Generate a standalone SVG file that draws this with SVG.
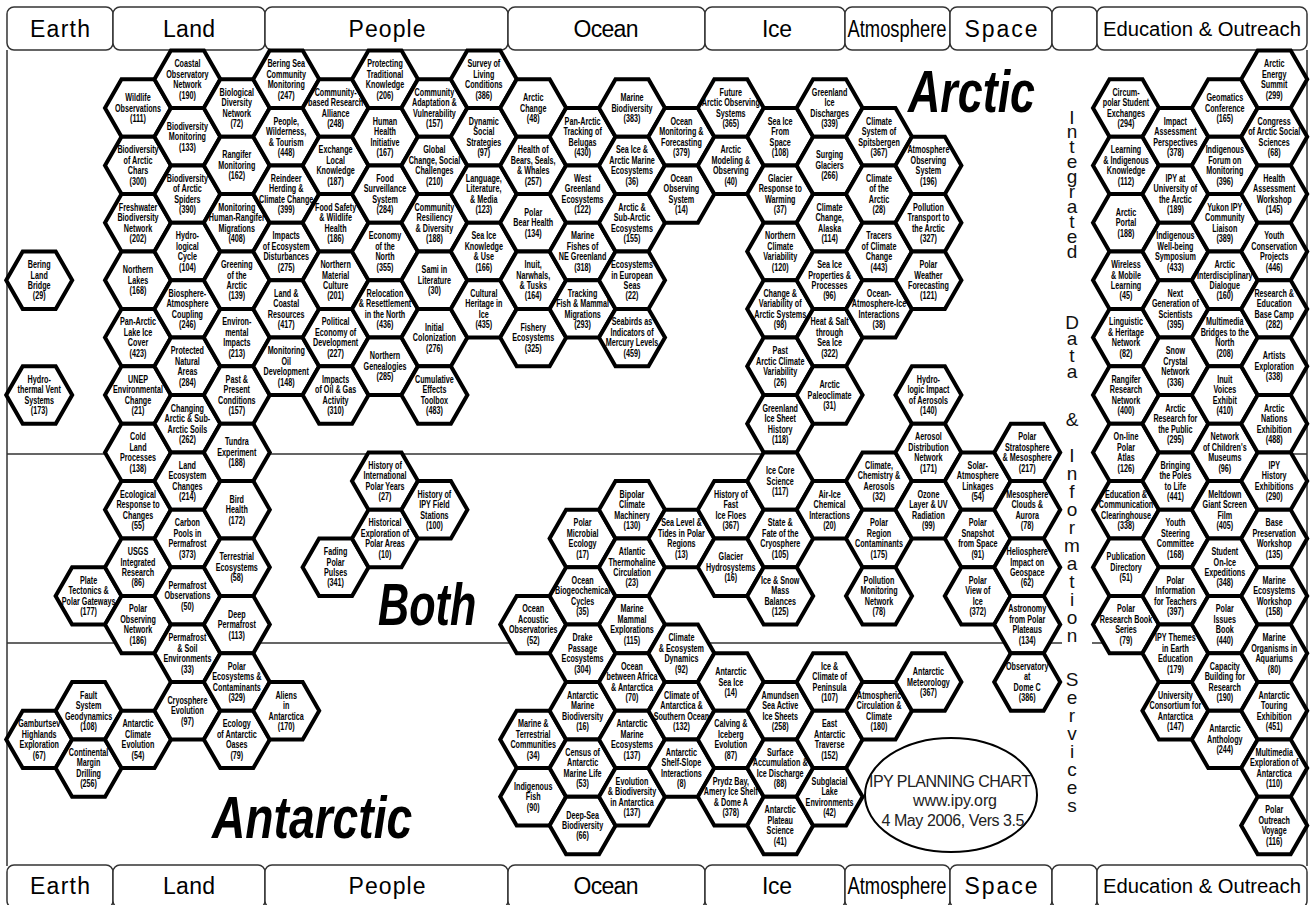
<svg xmlns="http://www.w3.org/2000/svg" width="1313" height="905" viewBox="0 0 1313 905">
<defs>
<path id="h" d="M-33,0L-16.5,-28.7L16.5,-28.7L33,0L16.5,28.7L-16.5,28.7Z" fill="#fff" stroke="#000" stroke-width="4" stroke-linejoin="miter"/>
<style>
.t{font-family:"Liberation Sans",Arial,sans-serif;font-weight:bold;font-size:10px;text-anchor:middle;transform:scale(.72,1);fill:#000}
.hb{fill:#fff;stroke:#333;stroke-width:1.5}
.ht{font-family:"Liberation Sans",Arial,sans-serif;font-size:23px;text-anchor:middle;fill:#000}
.hs{font-family:"Liberation Sans",Arial,sans-serif;font-size:20px;text-anchor:middle;fill:#000}
.big{font-family:"Liberation Sans",Arial,sans-serif;font-weight:bold;font-style:italic;font-size:60px;fill:#000}
.vt{font-family:"Liberation Sans",Arial,sans-serif;font-size:19px;fill:#111;writing-mode:vertical-rl;text-orientation:upright}
.ln{stroke:#333;stroke-width:1.5;fill:none}
.el{font-family:"Liberation Sans",Arial,sans-serif;font-size:16px;text-anchor:middle;fill:#222}
</style>
</defs>
<rect width="1313" height="905" fill="#fff"/>
<g id="frame">
<path class="ln" d="M7,50V866M1307,50V866M7,454H765M1285,454H1307M7,643H1062M1092,643H1110"/>
</g>
<g id="header">
<rect class="hb" x="7" y="7" width="106" height="43" rx="7"/>
<rect class="hb" x="113" y="7" width="152" height="43" rx="7"/>
<rect class="hb" x="265" y="7" width="243" height="43" rx="7"/>
<rect class="hb" x="508" y="7" width="197" height="43" rx="7"/>
<rect class="hb" x="705" y="7" width="140" height="43" rx="7"/>
<rect class="hb" x="845" y="7" width="105" height="43" rx="7"/>
<rect class="hb" x="950" y="7" width="102" height="43" rx="7"/>
<rect class="hb" x="1052" y="7" width="45" height="43" rx="7"/>
<rect class="hb" x="1097" y="7" width="210" height="43" rx="7"/>
<text class="ht" x="60" y="37" textLength="60">Earth</text>
<text class="ht" x="189" y="37" textLength="52">Land</text>
<text class="ht" x="387" y="37" textLength="77">People</text>
<text class="ht" x="606" y="37" textLength="65">Ocean</text>
<text class="ht" x="777" y="37" textLength="30">Ice</text>
<text class="ht" x="897" y="37" textLength="99" lengthAdjust="spacingAndGlyphs">Atmosphere</text>
<text class="ht" x="1001" y="37" textLength="73">Space</text>
<text class="hs" x="1202" y="36" textLength="198" lengthAdjust="spacingAndGlyphs">Education &amp; Outreach</text>
</g>
<g id="footer">
<rect class="hb" x="7" y="865" width="106" height="43" rx="7"/>
<rect class="hb" x="113" y="865" width="152" height="43" rx="7"/>
<rect class="hb" x="265" y="865" width="243" height="43" rx="7"/>
<rect class="hb" x="508" y="865" width="197" height="43" rx="7"/>
<rect class="hb" x="705" y="865" width="140" height="43" rx="7"/>
<rect class="hb" x="845" y="865" width="105" height="43" rx="7"/>
<rect class="hb" x="950" y="865" width="102" height="43" rx="7"/>
<rect class="hb" x="1052" y="865" width="45" height="43" rx="7"/>
<rect class="hb" x="1097" y="865" width="210" height="43" rx="7"/>
<text class="ht" x="60" y="894" textLength="60">Earth</text>
<text class="ht" x="189" y="894" textLength="52">Land</text>
<text class="ht" x="387" y="894" textLength="77">People</text>
<text class="ht" x="606" y="894" textLength="65">Ocean</text>
<text class="ht" x="777" y="894" textLength="30">Ice</text>
<text class="ht" x="897" y="894" textLength="99" lengthAdjust="spacingAndGlyphs">Atmosphere</text>
<text class="ht" x="1001" y="894" textLength="73">Space</text>
<text class="hs" x="1202" y="893" textLength="198" lengthAdjust="spacingAndGlyphs">Education &amp; Outreach</text>
</g>
<g id="labels">
<text class="big" transform="translate(908,112) scale(0.747,1)">Arctic</text>
<text class="big" transform="translate(378,625) scale(0.72,1)">Both</text>
<text class="big" transform="translate(212,838) scale(0.77,1)">Antarctic</text>
<text class="vt" x="1072" y="106.5" style="letter-spacing:-6.1px">Integrated</text>
<text class="vt" x="1072" y="311.5" style="letter-spacing:-4.5px">Data</text>
<text class="vt" x="1072" y="408.5">&amp;</text>
<text class="vt" x="1072" y="445" style="letter-spacing:-3px">Information</text>
<text class="vt" x="1072" y="668.5" style="letter-spacing:-2.9px">Services</text>
</g>
<g id="chart-note">
<ellipse cx="951" cy="795" rx="86" ry="57" fill="#fff" stroke="#000" stroke-width="2"/>
<text class="el" x="950" y="787" textLength="162">IPY PLANNING CHART</text>
<text class="el" x="955" y="806" textLength="84">www.ipy.org</text>
<text class="el" x="953" y="826" textLength="143">4 May 2006, Vers 3.5</text>
</g>
<g id="connectors"></g>
<g id="nodes">
<g id="n29" transform="translate(39.2,280.2)"><use href="#h"/><text class="t"><tspan x="0" y="-12.2">Bering</tspan><tspan x="0" y="-1.7">Land</tspan><tspan x="0" y="8.8">Bridge</tspan><tspan x="0" y="19.3">(29)</tspan></text></g>
<g id="n173" transform="translate(39.2,395)"><use href="#h"/><text class="t"><tspan x="0" y="-12.2">Hydro-</tspan><tspan x="0" y="-1.7">thermal Vent</tspan><tspan x="0" y="8.8">Systems</tspan><tspan x="0" y="19.3">(173)</tspan></text></g>
<g id="n67" transform="translate(39.2,739.4)"><use href="#h"/><text class="t"><tspan x="0" y="-12.2">Gamburtsev</tspan><tspan x="0" y="-1.7">Highlands</tspan><tspan x="0" y="8.8">Exploration</tspan><tspan x="0" y="19.3">(67)</tspan></text></g>
<g id="n177" transform="translate(88.6,595.9)"><use href="#h"/><text class="t"><tspan x="0" y="-12.2">Plate</tspan><tspan x="0" y="-1.7">Tectonics &amp;</tspan><tspan x="0" y="8.8">Polar Gateways</tspan><tspan x="0" y="19.3">(177)</tspan></text></g>
<g id="n108" transform="translate(88.6,710.7)"><use href="#h"/><text class="t"><tspan x="0" y="-12.2">Fault</tspan><tspan x="0" y="-1.7">System</tspan><tspan x="0" y="8.8">Geodynamics</tspan><tspan x="0" y="19.3">(108)</tspan></text></g>
<g id="n256" transform="translate(88.6,768.1)"><use href="#h"/><text class="t"><tspan x="0" y="-12.2">Continental</tspan><tspan x="0" y="-1.7">Margin</tspan><tspan x="0" y="8.8">Drilling</tspan><tspan x="0" y="19.3">(256)</tspan></text></g>

<g id="n111" transform="translate(138,108)"><use href="#h"/><text class="t"><tspan x="0" y="-7">Wildlife</tspan><tspan x="0" y="3.5">Observations</tspan><tspan x="0" y="14">(111)</tspan></text></g>
<g id="n300" transform="translate(138,165.4)"><use href="#h"/><text class="t"><tspan x="0" y="-12.2">Biodiversity</tspan><tspan x="0" y="-1.7">of Arctic</tspan><tspan x="0" y="8.8">Chars</tspan><tspan x="0" y="19.3">(300)</tspan></text></g>
<g id="n202" transform="translate(138,222.8)"><use href="#h"/><text class="t"><tspan x="0" y="-12.2">Freshwater</tspan><tspan x="0" y="-1.7">Biodiversity</tspan><tspan x="0" y="8.8">Network</tspan><tspan x="0" y="19.3">(202)</tspan></text></g>
<g id="n168a" transform="translate(138,280.2)"><use href="#h"/><text class="t"><tspan x="0" y="-7">Northern</tspan><tspan x="0" y="3.5">Lakes</tspan><tspan x="0" y="14">(168)</tspan></text></g>
<g id="n423" transform="translate(138,337.6)"><use href="#h"/><text class="t"><tspan x="0" y="-12.2">Pan-Arctic</tspan><tspan x="0" y="-1.7">Lake Ice</tspan><tspan x="0" y="8.8">Cover</tspan><tspan x="0" y="19.3">(423)</tspan></text></g>
<g id="n21" transform="translate(138,395)"><use href="#h"/><text class="t"><tspan x="0" y="-12.2">UNEP</tspan><tspan x="0" y="-1.7">Environmental</tspan><tspan x="0" y="8.8">Change</tspan><tspan x="0" y="19.3">(21)</tspan></text></g>
<g id="n138" transform="translate(138,452.4)"><use href="#h"/><text class="t"><tspan x="0" y="-12.2">Cold</tspan><tspan x="0" y="-1.7">Land</tspan><tspan x="0" y="8.8">Processes</tspan><tspan x="0" y="19.3">(138)</tspan></text></g>
<g id="n55" transform="translate(138,509.8)"><use href="#h"/><text class="t"><tspan x="0" y="-12.2">Ecological</tspan><tspan x="0" y="-1.7">Response to</tspan><tspan x="0" y="8.8">Changes</tspan><tspan x="0" y="19.3">(55)</tspan></text></g>
<g id="n86" transform="translate(138,567.2)"><use href="#h"/><text class="t"><tspan x="0" y="-12.2">USGS</tspan><tspan x="0" y="-1.7">Integrated</tspan><tspan x="0" y="8.8">Research</tspan><tspan x="0" y="19.3">(86)</tspan></text></g>
<g id="n186a" transform="translate(138,624.6)"><use href="#h"/><text class="t"><tspan x="0" y="-12.2">Polar</tspan><tspan x="0" y="-1.7">Observing</tspan><tspan x="0" y="8.8">Network</tspan><tspan x="0" y="19.3">(186)</tspan></text></g>
<g id="n54a" transform="translate(138,739.4)"><use href="#h"/><text class="t"><tspan x="0" y="-12.2">Antarctic</tspan><tspan x="0" y="-1.7">Climate</tspan><tspan x="0" y="8.8">Evolution</tspan><tspan x="0" y="19.3">(54)</tspan></text></g>

<g id="n190a" transform="translate(187.4,79.3)"><use href="#h"/><text class="t"><tspan x="0" y="-12.2">Coastal</tspan><tspan x="0" y="-1.7">Observatory</tspan><tspan x="0" y="8.8">Network</tspan><tspan x="0" y="19.3">(190)</tspan></text></g>
<g id="n133" transform="translate(187.4,136.7)"><use href="#h"/><text class="t"><tspan x="0" y="-7">Biodiversity</tspan><tspan x="0" y="3.5">Monitoring</tspan><tspan x="0" y="14">(133)</tspan></text></g>
<g id="n390" transform="translate(187.4,194.1)"><use href="#h"/><text class="t"><tspan x="0" y="-12.2">Biodiversity</tspan><tspan x="0" y="-1.7">of Arctic</tspan><tspan x="0" y="8.8">Spiders</tspan><tspan x="0" y="19.3">(390)</tspan></text></g>
<g id="n104" transform="translate(187.4,251.5)"><use href="#h"/><text class="t"><tspan x="0" y="-12.2">Hydro-</tspan><tspan x="0" y="-1.7">logical</tspan><tspan x="0" y="8.8">Cycle</tspan><tspan x="0" y="19.3">(104)</tspan></text></g>
<g id="n246" transform="translate(187.4,308.9)"><use href="#h"/><text class="t"><tspan x="0" y="-12.2">Biosphere-</tspan><tspan x="0" y="-1.7">Atmosphere</tspan><tspan x="0" y="8.8">Coupling</tspan><tspan x="0" y="19.3">(246)</tspan></text></g>
<g id="n284a" transform="translate(187.4,366.3)"><use href="#h"/><text class="t"><tspan x="0" y="-12.2">Protected</tspan><tspan x="0" y="-1.7">Natural</tspan><tspan x="0" y="8.8">Areas</tspan><tspan x="0" y="19.3">(284)</tspan></text></g>
<g id="n262" transform="translate(187.4,423.7)"><use href="#h"/><text class="t"><tspan x="0" y="-12.2">Changing</tspan><tspan x="0" y="-1.7">Arctic &amp; Sub-</tspan><tspan x="0" y="8.8">Arctic Soils</tspan><tspan x="0" y="19.3">(262)</tspan></text></g>
<g id="n214" transform="translate(187.4,481.1)"><use href="#h"/><text class="t"><tspan x="0" y="-12.2">Land</tspan><tspan x="0" y="-1.7">Ecosystem</tspan><tspan x="0" y="8.8">Changes</tspan><tspan x="0" y="19.3">(214)</tspan></text></g>
<g id="n373" transform="translate(187.4,538.5)"><use href="#h"/><text class="t"><tspan x="0" y="-12.2">Carbon</tspan><tspan x="0" y="-1.7">Pools in</tspan><tspan x="0" y="8.8">Permafrost</tspan><tspan x="0" y="19.3">(373)</tspan></text></g>
<g id="n50" transform="translate(187.4,595.9)"><use href="#h"/><text class="t"><tspan x="0" y="-7">Permafrost</tspan><tspan x="0" y="3.5">Observations</tspan><tspan x="0" y="14">(50)</tspan></text></g>
<g id="n33" transform="translate(187.4,653.3)"><use href="#h"/><text class="t"><tspan x="0" y="-12.2">Permafrost</tspan><tspan x="0" y="-1.7">&amp; Soil</tspan><tspan x="0" y="8.8">Environments</tspan><tspan x="0" y="19.3">(33)</tspan></text></g>
<g id="n97a" transform="translate(187.4,710.7)"><use href="#h"/><text class="t"><tspan x="0" y="-7">Cryosphere</tspan><tspan x="0" y="3.5">Evolution</tspan><tspan x="0" y="14">(97)</tspan></text></g>

<g id="n72" transform="translate(236.8,108)"><use href="#h"/><text class="t"><tspan x="0" y="-12.2">Biological</tspan><tspan x="0" y="-1.7">Diversity</tspan><tspan x="0" y="8.8">Network</tspan><tspan x="0" y="19.3">(72)</tspan></text></g>
<g id="n162" transform="translate(236.8,165.4)"><use href="#h"/><text class="t"><tspan x="0" y="-7">Rangifer</tspan><tspan x="0" y="3.5">Monitoring</tspan><tspan x="0" y="14">(162)</tspan></text></g>
<g id="n408" transform="translate(236.8,222.8)"><use href="#h"/><text class="t"><tspan x="0" y="-12.2">Monitoring</tspan><tspan x="0" y="-1.7">Human-Rangifer</tspan><tspan x="0" y="8.8">Migrations</tspan><tspan x="0" y="19.3">(408)</tspan></text></g>
<g id="n139" transform="translate(236.8,280.2)"><use href="#h"/><text class="t"><tspan x="0" y="-12.2">Greening</tspan><tspan x="0" y="-1.7">of the</tspan><tspan x="0" y="8.8">Arctic</tspan><tspan x="0" y="19.3">(139)</tspan></text></g>
<g id="n213" transform="translate(236.8,337.6)"><use href="#h"/><text class="t"><tspan x="0" y="-12.2">Environ-</tspan><tspan x="0" y="-1.7">mental</tspan><tspan x="0" y="8.8">Impacts</tspan><tspan x="0" y="19.3">(213)</tspan></text></g>
<g id="n157a" transform="translate(236.8,395)"><use href="#h"/><text class="t"><tspan x="0" y="-12.2">Past &amp;</tspan><tspan x="0" y="-1.7">Present</tspan><tspan x="0" y="8.8">Conditions</tspan><tspan x="0" y="19.3">(157)</tspan></text></g>
<g id="n188a" transform="translate(236.8,452.4)"><use href="#h"/><text class="t"><tspan x="0" y="-7">Tundra</tspan><tspan x="0" y="3.5">Experiment</tspan><tspan x="0" y="14">(188)</tspan></text></g>
<g id="n172" transform="translate(236.8,509.8)"><use href="#h"/><text class="t"><tspan x="0" y="-7">Bird</tspan><tspan x="0" y="3.5">Health</tspan><tspan x="0" y="14">(172)</tspan></text></g>
<g id="n58" transform="translate(236.8,567.2)"><use href="#h"/><text class="t"><tspan x="0" y="-7">Terrestrial</tspan><tspan x="0" y="3.5">Ecosystems</tspan><tspan x="0" y="14">(58)</tspan></text></g>
<g id="n113" transform="translate(236.8,624.6)"><use href="#h"/><text class="t"><tspan x="0" y="-7">Deep</tspan><tspan x="0" y="3.5">Permafrost</tspan><tspan x="0" y="14">(113)</tspan></text></g>
<g id="n329" transform="translate(236.8,682)"><use href="#h"/><text class="t"><tspan x="0" y="-12.2">Polar</tspan><tspan x="0" y="-1.7">Ecosystems &amp;</tspan><tspan x="0" y="8.8">Contaminants</tspan><tspan x="0" y="19.3">(329)</tspan></text></g>
<g id="n79a" transform="translate(236.8,739.4)"><use href="#h"/><text class="t"><tspan x="0" y="-12.2">Ecology</tspan><tspan x="0" y="-1.7">of Antarctic</tspan><tspan x="0" y="8.8">Oases</tspan><tspan x="0" y="19.3">(79)</tspan></text></g>

<g id="n247" transform="translate(286.2,79.3)"><use href="#h"/><text class="t"><tspan x="0" y="-12.2">Bering Sea</tspan><tspan x="0" y="-1.7">Community</tspan><tspan x="0" y="8.8">Monitoring</tspan><tspan x="0" y="19.3">(247)</tspan></text></g>
<g id="n448" transform="translate(286.2,136.7)"><use href="#h"/><text class="t"><tspan x="0" y="-12.2">People,</tspan><tspan x="0" y="-1.7">Wilderness,</tspan><tspan x="0" y="8.8">&amp; Tourism</tspan><tspan x="0" y="19.3">(448)</tspan></text></g>
<g id="n399" transform="translate(286.2,194.1)"><use href="#h"/><text class="t"><tspan x="0" y="-12.2">Reindeer</tspan><tspan x="0" y="-1.7">Herding &amp;</tspan><tspan x="0" y="8.8">Climate Change</tspan><tspan x="0" y="19.3">(399)</tspan></text></g>
<g id="n275" transform="translate(286.2,251.5)"><use href="#h"/><text class="t"><tspan x="0" y="-12.2">Impacts</tspan><tspan x="0" y="-1.7">of Ecosystem</tspan><tspan x="0" y="8.8">Disturbances</tspan><tspan x="0" y="19.3">(275)</tspan></text></g>
<g id="n417" transform="translate(286.2,308.9)"><use href="#h"/><text class="t"><tspan x="0" y="-12.2">Land &amp;</tspan><tspan x="0" y="-1.7">Coastal</tspan><tspan x="0" y="8.8">Resources</tspan><tspan x="0" y="19.3">(417)</tspan></text></g>
<g id="n148" transform="translate(286.2,366.3)"><use href="#h"/><text class="t"><tspan x="0" y="-12.2">Monitoring</tspan><tspan x="0" y="-1.7">Oil</tspan><tspan x="0" y="8.8">Development</tspan><tspan x="0" y="19.3">(148)</tspan></text></g>
<g id="n170" transform="translate(286.2,710.7)"><use href="#h"/><text class="t"><tspan x="0" y="-12.2">Aliens</tspan><tspan x="0" y="-1.7">in</tspan><tspan x="0" y="8.8">Antarctica</tspan><tspan x="0" y="19.3">(170)</tspan></text></g>

<g id="n248" transform="translate(335.6,108)"><use href="#h"/><text class="t"><tspan x="0" y="-12.2">Community-</tspan><tspan x="0" y="-1.7">based Research</tspan><tspan x="0" y="8.8">Alliance</tspan><tspan x="0" y="19.3">(248)</tspan></text></g>
<g id="n187" transform="translate(335.6,165.4)"><use href="#h"/><text class="t"><tspan x="0" y="-12.2">Exchange</tspan><tspan x="0" y="-1.7">Local</tspan><tspan x="0" y="8.8">Knowledge</tspan><tspan x="0" y="19.3">(187)</tspan></text></g>
<g id="n186b" transform="translate(335.6,222.8)"><use href="#h"/><text class="t"><tspan x="0" y="-12.2">Food Safety</tspan><tspan x="0" y="-1.7">&amp; Wildlife</tspan><tspan x="0" y="8.8">Health</tspan><tspan x="0" y="19.3">(186)</tspan></text></g>
<g id="n201" transform="translate(335.6,280.2)"><use href="#h"/><text class="t"><tspan x="0" y="-12.2">Northern</tspan><tspan x="0" y="-1.7">Material</tspan><tspan x="0" y="8.8">Culture</tspan><tspan x="0" y="19.3">(201)</tspan></text></g>
<g id="n227" transform="translate(335.6,337.6)"><use href="#h"/><text class="t"><tspan x="0" y="-12.2">Political</tspan><tspan x="0" y="-1.7">Economy of</tspan><tspan x="0" y="8.8">Development</tspan><tspan x="0" y="19.3">(227)</tspan></text></g>
<g id="n310" transform="translate(335.6,395)"><use href="#h"/><text class="t"><tspan x="0" y="-12.2">Impacts</tspan><tspan x="0" y="-1.7">of Oil &amp; Gas</tspan><tspan x="0" y="8.8">Activity</tspan><tspan x="0" y="19.3">(310)</tspan></text></g>
<g id="n341" transform="translate(335.6,567.2)"><use href="#h"/><text class="t"><tspan x="0" y="-12.2">Fading</tspan><tspan x="0" y="-1.7">Polar</tspan><tspan x="0" y="8.8">Pulses</tspan><tspan x="0" y="19.3">(341)</tspan></text></g>

<g id="n206" transform="translate(385,79.3)"><use href="#h"/><text class="t"><tspan x="0" y="-12.2">Protecting</tspan><tspan x="0" y="-1.7">Traditional</tspan><tspan x="0" y="8.8">Knowledge</tspan><tspan x="0" y="19.3">(206)</tspan></text></g>
<g id="n167" transform="translate(385,136.7)"><use href="#h"/><text class="t"><tspan x="0" y="-12.2">Human</tspan><tspan x="0" y="-1.7">Health</tspan><tspan x="0" y="8.8">Initiative</tspan><tspan x="0" y="19.3">(167)</tspan></text></g>
<g id="n284b" transform="translate(385,194.1)"><use href="#h"/><text class="t"><tspan x="0" y="-12.2">Food</tspan><tspan x="0" y="-1.7">Surveillance</tspan><tspan x="0" y="8.8">System</tspan><tspan x="0" y="19.3">(284)</tspan></text></g>
<g id="n355" transform="translate(385,251.5)"><use href="#h"/><text class="t"><tspan x="0" y="-12.2">Economy</tspan><tspan x="0" y="-1.7">of the</tspan><tspan x="0" y="8.8">North</tspan><tspan x="0" y="19.3">(355)</tspan></text></g>
<g id="n436" transform="translate(385,308.9)"><use href="#h"/><text class="t"><tspan x="0" y="-12.2">Relocation</tspan><tspan x="0" y="-1.7">&amp; Resettlement</tspan><tspan x="0" y="8.8">in the North</tspan><tspan x="0" y="19.3">(436)</tspan></text></g>
<g id="n285" transform="translate(385,366.3)"><use href="#h"/><text class="t"><tspan x="0" y="-7">Northern</tspan><tspan x="0" y="3.5">Genealogies</tspan><tspan x="0" y="14">(285)</tspan></text></g>
<g id="n27" transform="translate(385,481.1)"><use href="#h"/><text class="t"><tspan x="0" y="-12.2">History of</tspan><tspan x="0" y="-1.7">International</tspan><tspan x="0" y="8.8">Polar Years</tspan><tspan x="0" y="19.3">(27)</tspan></text></g>
<g id="n10" transform="translate(385,538.5)"><use href="#h"/><text class="t"><tspan x="0" y="-12.2">Historical</tspan><tspan x="0" y="-1.7">Exploration of</tspan><tspan x="0" y="8.8">Polar Areas</tspan><tspan x="0" y="19.3">(10)</tspan></text></g>

<g id="n157b" transform="translate(434.4,108)"><use href="#h"/><text class="t"><tspan x="0" y="-12.2">Community</tspan><tspan x="0" y="-1.7">Adaptation &amp;</tspan><tspan x="0" y="8.8">Vulnerability</tspan><tspan x="0" y="19.3">(157)</tspan></text></g>
<g id="n210" transform="translate(434.4,165.4)"><use href="#h"/><text class="t"><tspan x="0" y="-12.2">Global</tspan><tspan x="0" y="-1.7">Change, Social</tspan><tspan x="0" y="8.8">Challenges</tspan><tspan x="0" y="19.3">(210)</tspan></text></g>
<g id="n188b" transform="translate(434.4,222.8)"><use href="#h"/><text class="t"><tspan x="0" y="-12.2">Community</tspan><tspan x="0" y="-1.7">Resiliency</tspan><tspan x="0" y="8.8">&amp; Diversity</tspan><tspan x="0" y="19.3">(188)</tspan></text></g>
<g id="n30" transform="translate(434.4,280.2)"><use href="#h"/><text class="t"><tspan x="0" y="-7">Sami in</tspan><tspan x="0" y="3.5">Literature</tspan><tspan x="0" y="14">(30)</tspan></text></g>
<g id="n276" transform="translate(434.4,337.6)"><use href="#h"/><text class="t"><tspan x="0" y="-7">Initial</tspan><tspan x="0" y="3.5">Colonization</tspan><tspan x="0" y="14">(276)</tspan></text></g>
<g id="n483" transform="translate(434.4,395)"><use href="#h"/><text class="t"><tspan x="0" y="-12.2">Cumulative</tspan><tspan x="0" y="-1.7">Effects</tspan><tspan x="0" y="8.8">Toolbox</tspan><tspan x="0" y="19.3">(483)</tspan></text></g>
<g id="n100" transform="translate(434.4,509.8)"><use href="#h"/><text class="t"><tspan x="0" y="-12.2">History of</tspan><tspan x="0" y="-1.7">IPY Field</tspan><tspan x="0" y="8.8">Stations</tspan><tspan x="0" y="19.3">(100)</tspan></text></g>

<g id="n386a" transform="translate(483.8,79.3)"><use href="#h"/><text class="t"><tspan x="0" y="-12.2">Survey of</tspan><tspan x="0" y="-1.7">Living</tspan><tspan x="0" y="8.8">Conditions</tspan><tspan x="0" y="19.3">(386)</tspan></text></g>
<g id="n97b" transform="translate(483.8,136.7)"><use href="#h"/><text class="t"><tspan x="0" y="-12.2">Dynamic</tspan><tspan x="0" y="-1.7">Social</tspan><tspan x="0" y="8.8">Strategies</tspan><tspan x="0" y="19.3">(97)</tspan></text></g>
<g id="n123" transform="translate(483.8,194.1)"><use href="#h"/><text class="t"><tspan x="0" y="-12.2">Language,</tspan><tspan x="0" y="-1.7">Literature,</tspan><tspan x="0" y="8.8">&amp; Media</tspan><tspan x="0" y="19.3">(123)</tspan></text></g>
<g id="n166" transform="translate(483.8,251.5)"><use href="#h"/><text class="t"><tspan x="0" y="-12.2">Sea Ice</tspan><tspan x="0" y="-1.7">Knowledge</tspan><tspan x="0" y="8.8">&amp; Use</tspan><tspan x="0" y="19.3">(166)</tspan></text></g>
<g id="n435" transform="translate(483.8,308.9)"><use href="#h"/><text class="t"><tspan x="0" y="-12.2">Cultural</tspan><tspan x="0" y="-1.7">Heritage in</tspan><tspan x="0" y="8.8">Ice</tspan><tspan x="0" y="19.3">(435)</tspan></text></g>

<g id="n48" transform="translate(533.2,108)"><use href="#h"/><text class="t"><tspan x="0" y="-7">Arctic</tspan><tspan x="0" y="3.5">Change</tspan><tspan x="0" y="14">(48)</tspan></text></g>
<g id="n257" transform="translate(533.2,165.4)"><use href="#h"/><text class="t"><tspan x="0" y="-12.2">Health of</tspan><tspan x="0" y="-1.7">Bears, Seals,</tspan><tspan x="0" y="8.8">&amp; Whales</tspan><tspan x="0" y="19.3">(257)</tspan></text></g>
<g id="n134a" transform="translate(533.2,222.8)"><use href="#h"/><text class="t"><tspan x="0" y="-7">Polar</tspan><tspan x="0" y="3.5">Bear Health</tspan><tspan x="0" y="14">(134)</tspan></text></g>
<g id="n164" transform="translate(533.2,280.2)"><use href="#h"/><text class="t"><tspan x="0" y="-12.2">Inuit,</tspan><tspan x="0" y="-1.7">Narwhals,</tspan><tspan x="0" y="8.8">&amp; Tusks</tspan><tspan x="0" y="19.3">(164)</tspan></text></g>
<g id="n325" transform="translate(533.2,337.6)"><use href="#h"/><text class="t"><tspan x="0" y="-7">Fishery</tspan><tspan x="0" y="3.5">Ecosystems</tspan><tspan x="0" y="14">(325)</tspan></text></g>
<g id="n52" transform="translate(533.2,624.6)"><use href="#h"/><text class="t"><tspan x="0" y="-12.2">Ocean</tspan><tspan x="0" y="-1.7">Acoustic</tspan><tspan x="0" y="8.8">Observatories</tspan><tspan x="0" y="19.3">(52)</tspan></text></g>
<g id="n34" transform="translate(533.2,739.4)"><use href="#h"/><text class="t"><tspan x="0" y="-12.2">Marine &amp;</tspan><tspan x="0" y="-1.7">Terrestrial</tspan><tspan x="0" y="8.8">Communities</tspan><tspan x="0" y="19.3">(34)</tspan></text></g>
<g id="n90" transform="translate(533.2,796.8)"><use href="#h"/><text class="t"><tspan x="0" y="-7">Indigenous</tspan><tspan x="0" y="3.5">Fish</tspan><tspan x="0" y="14">(90)</tspan></text></g>

<g id="n430" transform="translate(582.6,136.7)"><use href="#h"/><text class="t"><tspan x="0" y="-12.2">Pan-Arctic</tspan><tspan x="0" y="-1.7">Tracking of</tspan><tspan x="0" y="8.8">Belugas</tspan><tspan x="0" y="19.3">(430)</tspan></text></g>
<g id="n122" transform="translate(582.6,194.1)"><use href="#h"/><text class="t"><tspan x="0" y="-12.2">West</tspan><tspan x="0" y="-1.7">Greenland</tspan><tspan x="0" y="8.8">Ecosystems</tspan><tspan x="0" y="19.3">(122)</tspan></text></g>
<g id="n318" transform="translate(582.6,251.5)"><use href="#h"/><text class="t"><tspan x="0" y="-12.2">Marine</tspan><tspan x="0" y="-1.7">Fishes of</tspan><tspan x="0" y="8.8">NE Greenland</tspan><tspan x="0" y="19.3">(318)</tspan></text></g>
<g id="n293" transform="translate(582.6,308.9)"><use href="#h"/><text class="t"><tspan x="0" y="-12.2">Tracking</tspan><tspan x="0" y="-1.7">Fish &amp; Mammal</tspan><tspan x="0" y="8.8">Migrations</tspan><tspan x="0" y="19.3">(293)</tspan></text></g>
<g id="n17" transform="translate(582.6,538.5)"><use href="#h"/><text class="t"><tspan x="0" y="-12.2">Polar</tspan><tspan x="0" y="-1.7">Microbial</tspan><tspan x="0" y="8.8">Ecology</tspan><tspan x="0" y="19.3">(17)</tspan></text></g>
<g id="n35" transform="translate(582.6,595.9)"><use href="#h"/><text class="t"><tspan x="0" y="-12.2">Ocean</tspan><tspan x="0" y="-1.7">Biogeochemical</tspan><tspan x="0" y="8.8">Cycles</tspan><tspan x="0" y="19.3">(35)</tspan></text></g>
<g id="n304" transform="translate(582.6,653.3)"><use href="#h"/><text class="t"><tspan x="0" y="-12.2">Drake</tspan><tspan x="0" y="-1.7">Passage</tspan><tspan x="0" y="8.8">Ecosystems</tspan><tspan x="0" y="19.3">(304)</tspan></text></g>
<g id="n16a" transform="translate(582.6,710.7)"><use href="#h"/><text class="t"><tspan x="0" y="-12.2">Antarctic</tspan><tspan x="0" y="-1.7">Marine</tspan><tspan x="0" y="8.8">Biodiversity</tspan><tspan x="0" y="19.3">(16)</tspan></text></g>
<g id="n53" transform="translate(582.6,768.1)"><use href="#h"/><text class="t"><tspan x="0" y="-12.2">Census of</tspan><tspan x="0" y="-1.7">Antarctic</tspan><tspan x="0" y="8.8">Marine Life</tspan><tspan x="0" y="19.3">(53)</tspan></text></g>
<g id="n66" transform="translate(582.6,825.5)"><use href="#h"/><text class="t"><tspan x="0" y="-7">Deep-Sea</tspan><tspan x="0" y="3.5">Biodiversity</tspan><tspan x="0" y="14">(66)</tspan></text></g>

<g id="n383" transform="translate(632,108)"><use href="#h"/><text class="t"><tspan x="0" y="-7">Marine</tspan><tspan x="0" y="3.5">Biodiversity</tspan><tspan x="0" y="14">(383)</tspan></text></g>
<g id="n36" transform="translate(632,165.4)"><use href="#h"/><text class="t"><tspan x="0" y="-12.2">Sea Ice &amp;</tspan><tspan x="0" y="-1.7">Arctic Marine</tspan><tspan x="0" y="8.8">Ecosystems</tspan><tspan x="0" y="19.3">(36)</tspan></text></g>
<g id="n155" transform="translate(632,222.8)"><use href="#h"/><text class="t"><tspan x="0" y="-12.2">Arctic &amp;</tspan><tspan x="0" y="-1.7">Sub-Arctic</tspan><tspan x="0" y="8.8">Ecosystems</tspan><tspan x="0" y="19.3">(155)</tspan></text></g>
<g id="n22" transform="translate(632,280.2)"><use href="#h"/><text class="t"><tspan x="0" y="-12.2">Ecosystems</tspan><tspan x="0" y="-1.7">in European</tspan><tspan x="0" y="8.8">Seas</tspan><tspan x="0" y="19.3">(22)</tspan></text></g>
<g id="n459" transform="translate(632,337.6)"><use href="#h"/><text class="t"><tspan x="0" y="-12.2">Seabirds as</tspan><tspan x="0" y="-1.7">Indicators of</tspan><tspan x="0" y="8.8">Mercury Levels</tspan><tspan x="0" y="19.3">(459)</tspan></text></g>
<g id="n130" transform="translate(632,509.8)"><use href="#h"/><text class="t"><tspan x="0" y="-12.2">Bipolar</tspan><tspan x="0" y="-1.7">Climate</tspan><tspan x="0" y="8.8">Machinery</tspan><tspan x="0" y="19.3">(130)</tspan></text></g>
<g id="n23" transform="translate(632,567.2)"><use href="#h"/><text class="t"><tspan x="0" y="-12.2">Atlantic</tspan><tspan x="0" y="-1.7">Thermohaline</tspan><tspan x="0" y="8.8">Circulation</tspan><tspan x="0" y="19.3">(23)</tspan></text></g>
<g id="n115" transform="translate(632,624.6)"><use href="#h"/><text class="t"><tspan x="0" y="-12.2">Marine</tspan><tspan x="0" y="-1.7">Mammal</tspan><tspan x="0" y="8.8">Explorations</tspan><tspan x="0" y="19.3">(115)</tspan></text></g>
<g id="n70" transform="translate(632,682)"><use href="#h"/><text class="t"><tspan x="0" y="-12.2">Ocean</tspan><tspan x="0" y="-1.7">between Africa</tspan><tspan x="0" y="8.8">&amp; Antarctica</tspan><tspan x="0" y="19.3">(70)</tspan></text></g>
<g id="n137a" transform="translate(632,739.4)"><use href="#h"/><text class="t"><tspan x="0" y="-12.2">Antarctic</tspan><tspan x="0" y="-1.7">Marine</tspan><tspan x="0" y="8.8">Ecosystems</tspan><tspan x="0" y="19.3">(137)</tspan></text></g>
<g id="n137b" transform="translate(632,796.8)"><use href="#h"/><text class="t"><tspan x="0" y="-12.2">Evolution</tspan><tspan x="0" y="-1.7">&amp; Biodiversity</tspan><tspan x="0" y="8.8">in Antarctica</tspan><tspan x="0" y="19.3">(137)</tspan></text></g>

<g id="n379" transform="translate(681.4,136.7)"><use href="#h"/><text class="t"><tspan x="0" y="-12.2">Ocean</tspan><tspan x="0" y="-1.7">Monitoring &amp;</tspan><tspan x="0" y="8.8">Forecasting</tspan><tspan x="0" y="19.3">(379)</tspan></text></g>
<g id="n14a" transform="translate(681.4,194.1)"><use href="#h"/><text class="t"><tspan x="0" y="-12.2">Ocean</tspan><tspan x="0" y="-1.7">Observing</tspan><tspan x="0" y="8.8">System</tspan><tspan x="0" y="19.3">(14)</tspan></text></g>
<g id="n13" transform="translate(681.4,538.5)"><use href="#h"/><text class="t"><tspan x="0" y="-12.2">Sea Level &amp;</tspan><tspan x="0" y="-1.7">Tides in Polar</tspan><tspan x="0" y="8.8">Regions</tspan><tspan x="0" y="19.3">(13)</tspan></text></g>
<g id="n92" transform="translate(681.4,653.3)"><use href="#h"/><text class="t"><tspan x="0" y="-12.2">Climate</tspan><tspan x="0" y="-1.7">&amp; Ecosystem</tspan><tspan x="0" y="8.8">Dynamics</tspan><tspan x="0" y="19.3">(92)</tspan></text></g>
<g id="n132" transform="translate(681.4,710.7)"><use href="#h"/><text class="t"><tspan x="0" y="-12.2">Climate of</tspan><tspan x="0" y="-1.7">Antarctica &amp;</tspan><tspan x="0" y="8.8">Southern Ocean</tspan><tspan x="0" y="19.3">(132)</tspan></text></g>
<g id="n8" transform="translate(681.4,768.1)"><use href="#h"/><text class="t"><tspan x="0" y="-12.2">Antarctic</tspan><tspan x="0" y="-1.7">Shelf-Slope</tspan><tspan x="0" y="8.8">Interactions</tspan><tspan x="0" y="19.3">(8)</tspan></text></g>

<g id="n365" transform="translate(730.8,108)"><use href="#h"/><text class="t"><tspan x="0" y="-12.2">Future</tspan><tspan x="0" y="-1.7">Arctic Observing</tspan><tspan x="0" y="8.8">Systems</tspan><tspan x="0" y="19.3">(365)</tspan></text></g>
<g id="n40" transform="translate(730.8,165.4)"><use href="#h"/><text class="t"><tspan x="0" y="-12.2">Arctic</tspan><tspan x="0" y="-1.7">Modeling &amp;</tspan><tspan x="0" y="8.8">Observing</tspan><tspan x="0" y="19.3">(40)</tspan></text></g>
<g id="n367a" transform="translate(730.8,509.8)"><use href="#h"/><text class="t"><tspan x="0" y="-12.2">History of</tspan><tspan x="0" y="-1.7">Fast</tspan><tspan x="0" y="8.8">Ice Floes</tspan><tspan x="0" y="19.3">(367)</tspan></text></g>
<g id="n16b" transform="translate(730.8,567.2)"><use href="#h"/><text class="t"><tspan x="0" y="-7">Glacier</tspan><tspan x="0" y="3.5">Hydrosystems</tspan><tspan x="0" y="14">(16)</tspan></text></g>
<g id="n14b" transform="translate(730.8,682)"><use href="#h"/><text class="t"><tspan x="0" y="-7">Antarctic</tspan><tspan x="0" y="3.5">Sea Ice</tspan><tspan x="0" y="14">(14)</tspan></text></g>
<g id="n87" transform="translate(730.8,739.4)"><use href="#h"/><text class="t"><tspan x="0" y="-12.2">Calving &amp;</tspan><tspan x="0" y="-1.7">Iceberg</tspan><tspan x="0" y="8.8">Evolution</tspan><tspan x="0" y="19.3">(87)</tspan></text></g>
<g id="n378a" transform="translate(730.8,796.8)"><use href="#h"/><text class="t"><tspan x="0" y="-12.2">Prydz Bay,</tspan><tspan x="0" y="-1.7">Amery Ice Shelf</tspan><tspan x="0" y="8.8">&amp; Dome A</tspan><tspan x="0" y="19.3">(378)</tspan></text></g>

<g id="n108b" transform="translate(780.2,136.7)"><use href="#h"/><text class="t"><tspan x="0" y="-12.2">Sea Ice</tspan><tspan x="0" y="-1.7">From</tspan><tspan x="0" y="8.8">Space</tspan><tspan x="0" y="19.3">(108)</tspan></text></g>
<g id="n37" transform="translate(780.2,194.1)"><use href="#h"/><text class="t"><tspan x="0" y="-12.2">Glacier</tspan><tspan x="0" y="-1.7">Response to</tspan><tspan x="0" y="8.8">Warming</tspan><tspan x="0" y="19.3">(37)</tspan></text></g>
<g id="n120" transform="translate(780.2,251.5)"><use href="#h"/><text class="t"><tspan x="0" y="-12.2">Northern</tspan><tspan x="0" y="-1.7">Climate</tspan><tspan x="0" y="8.8">Variability</tspan><tspan x="0" y="19.3">(120)</tspan></text></g>
<g id="n98" transform="translate(780.2,308.9)"><use href="#h"/><text class="t"><tspan x="0" y="-12.2">Change &amp;</tspan><tspan x="0" y="-1.7">Variability of</tspan><tspan x="0" y="8.8">Arctic Systems</tspan><tspan x="0" y="19.3">(98)</tspan></text></g>
<g id="n26" transform="translate(780.2,366.3)"><use href="#h"/><text class="t"><tspan x="0" y="-12.2">Past</tspan><tspan x="0" y="-1.7">Arctic Climate</tspan><tspan x="0" y="8.8">Variability</tspan><tspan x="0" y="19.3">(26)</tspan></text></g>
<g id="n118" transform="translate(780.2,423.7)"><use href="#h"/><text class="t"><tspan x="0" y="-12.2">Greenland</tspan><tspan x="0" y="-1.7">Ice Sheet</tspan><tspan x="0" y="8.8">History</tspan><tspan x="0" y="19.3">(118)</tspan></text></g>
<g id="n117" transform="translate(780.2,481.1)"><use href="#h"/><text class="t"><tspan x="0" y="-7">Ice Core</tspan><tspan x="0" y="3.5">Science</tspan><tspan x="0" y="14">(117)</tspan></text></g>
<g id="n105" transform="translate(780.2,538.5)"><use href="#h"/><text class="t"><tspan x="0" y="-12.2">State &amp;</tspan><tspan x="0" y="-1.7">Fate of the</tspan><tspan x="0" y="8.8">Cryosphere</tspan><tspan x="0" y="19.3">(105)</tspan></text></g>
<g id="n125" transform="translate(780.2,595.9)"><use href="#h"/><text class="t"><tspan x="0" y="-12.2">Ice &amp; Snow</tspan><tspan x="0" y="-1.7">Mass</tspan><tspan x="0" y="8.8">Balances</tspan><tspan x="0" y="19.3">(125)</tspan></text></g>
<g id="n258" transform="translate(780.2,710.7)"><use href="#h"/><text class="t"><tspan x="0" y="-12.2">Amundsen</tspan><tspan x="0" y="-1.7">Sea Active</tspan><tspan x="0" y="8.8">Ice Sheets</tspan><tspan x="0" y="19.3">(258)</tspan></text></g>
<g id="n88" transform="translate(780.2,768.1)"><use href="#h"/><text class="t"><tspan x="0" y="-12.2">Surface</tspan><tspan x="0" y="-1.7">Accumulation &amp;</tspan><tspan x="0" y="8.8">Ice Discharge</tspan><tspan x="0" y="19.3">(88)</tspan></text></g>
<g id="n41" transform="translate(780.2,825.5)"><use href="#h"/><text class="t"><tspan x="0" y="-12.2">Antarctic</tspan><tspan x="0" y="-1.7">Plateau</tspan><tspan x="0" y="8.8">Science</tspan><tspan x="0" y="19.3">(41)</tspan></text></g>

<g id="n339" transform="translate(829.6,108)"><use href="#h"/><text class="t"><tspan x="0" y="-12.2">Greenland</tspan><tspan x="0" y="-1.7">Ice</tspan><tspan x="0" y="8.8">Discharges</tspan><tspan x="0" y="19.3">(339)</tspan></text></g>
<g id="n266" transform="translate(829.6,165.4)"><use href="#h"/><text class="t"><tspan x="0" y="-7">Surging</tspan><tspan x="0" y="3.5">Glaciers</tspan><tspan x="0" y="14">(266)</tspan></text></g>
<g id="n114" transform="translate(829.6,222.8)"><use href="#h"/><text class="t"><tspan x="0" y="-12.2">Climate</tspan><tspan x="0" y="-1.7">Change,</tspan><tspan x="0" y="8.8">Alaska</tspan><tspan x="0" y="19.3">(114)</tspan></text></g>
<g id="n96a" transform="translate(829.6,280.2)"><use href="#h"/><text class="t"><tspan x="0" y="-12.2">Sea Ice</tspan><tspan x="0" y="-1.7">Properties &amp;</tspan><tspan x="0" y="8.8">Processes</tspan><tspan x="0" y="19.3">(96)</tspan></text></g>
<g id="n322" transform="translate(829.6,337.6)"><use href="#h"/><text class="t"><tspan x="0" y="-12.2">Heat &amp; Salt</tspan><tspan x="0" y="-1.7">through</tspan><tspan x="0" y="8.8">Sea Ice</tspan><tspan x="0" y="19.3">(322)</tspan></text></g>
<g id="n31" transform="translate(829.6,395)"><use href="#h"/><text class="t"><tspan x="0" y="-7">Arctic</tspan><tspan x="0" y="3.5">Paleoclimate</tspan><tspan x="0" y="14">(31)</tspan></text></g>
<g id="n20" transform="translate(829.6,509.8)"><use href="#h"/><text class="t"><tspan x="0" y="-12.2">Air-Ice</tspan><tspan x="0" y="-1.7">Chemical</tspan><tspan x="0" y="8.8">Interactions</tspan><tspan x="0" y="19.3">(20)</tspan></text></g>
<g id="n107" transform="translate(829.6,682)"><use href="#h"/><text class="t"><tspan x="0" y="-12.2">Ice &amp;</tspan><tspan x="0" y="-1.7">Climate of</tspan><tspan x="0" y="8.8">Peninsula</tspan><tspan x="0" y="19.3">(107)</tspan></text></g>
<g id="n152" transform="translate(829.6,739.4)"><use href="#h"/><text class="t"><tspan x="0" y="-12.2">East</tspan><tspan x="0" y="-1.7">Antarctic</tspan><tspan x="0" y="8.8">Traverse</tspan><tspan x="0" y="19.3">(152)</tspan></text></g>
<g id="n42" transform="translate(829.6,796.8)"><use href="#h"/><text class="t"><tspan x="0" y="-12.2">Subglacial</tspan><tspan x="0" y="-1.7">Lake</tspan><tspan x="0" y="8.8">Environments</tspan><tspan x="0" y="19.3">(42)</tspan></text></g>

<g id="n367b" transform="translate(879,136.7)"><use href="#h"/><text class="t"><tspan x="0" y="-12.2">Climate</tspan><tspan x="0" y="-1.7">System of</tspan><tspan x="0" y="8.8">Spitsbergen</tspan><tspan x="0" y="19.3">(367)</tspan></text></g>
<g id="n28" transform="translate(879,194.1)"><use href="#h"/><text class="t"><tspan x="0" y="-12.2">Climate</tspan><tspan x="0" y="-1.7">of the</tspan><tspan x="0" y="8.8">Arctic</tspan><tspan x="0" y="19.3">(28)</tspan></text></g>
<g id="n443" transform="translate(879,251.5)"><use href="#h"/><text class="t"><tspan x="0" y="-12.2">Tracers</tspan><tspan x="0" y="-1.7">of Climate</tspan><tspan x="0" y="8.8">Change</tspan><tspan x="0" y="19.3">(443)</tspan></text></g>
<g id="n38" transform="translate(879,308.9)"><use href="#h"/><text class="t"><tspan x="0" y="-12.2">Ocean-</tspan><tspan x="0" y="-1.7">Atmosphere-Ice</tspan><tspan x="0" y="8.8">Interactions</tspan><tspan x="0" y="19.3">(38)</tspan></text></g>
<g id="n32" transform="translate(879,481.1)"><use href="#h"/><text class="t"><tspan x="0" y="-12.2">Climate,</tspan><tspan x="0" y="-1.7">Chemistry &amp;</tspan><tspan x="0" y="8.8">Aerosols</tspan><tspan x="0" y="19.3">(32)</tspan></text></g>
<g id="n175" transform="translate(879,538.5)"><use href="#h"/><text class="t"><tspan x="0" y="-12.2">Polar</tspan><tspan x="0" y="-1.7">Region</tspan><tspan x="0" y="8.8">Contaminants</tspan><tspan x="0" y="19.3">(175)</tspan></text></g>
<g id="n78a" transform="translate(879,595.9)"><use href="#h"/><text class="t"><tspan x="0" y="-12.2">Pollution</tspan><tspan x="0" y="-1.7">Monitoring</tspan><tspan x="0" y="8.8">Network</tspan><tspan x="0" y="19.3">(78)</tspan></text></g>
<g id="n180" transform="translate(879,710.7)"><use href="#h"/><text class="t"><tspan x="0" y="-12.2">Atmospheric</tspan><tspan x="0" y="-1.7">Circulation &amp;</tspan><tspan x="0" y="8.8">Climate</tspan><tspan x="0" y="19.3">(180)</tspan></text></g>

<g id="n196" transform="translate(928.4,165.4)"><use href="#h"/><text class="t"><tspan x="0" y="-12.2">Atmosphere</tspan><tspan x="0" y="-1.7">Observing</tspan><tspan x="0" y="8.8">System</tspan><tspan x="0" y="19.3">(196)</tspan></text></g>
<g id="n327" transform="translate(928.4,222.8)"><use href="#h"/><text class="t"><tspan x="0" y="-12.2">Pollution</tspan><tspan x="0" y="-1.7">Transport to</tspan><tspan x="0" y="8.8">the Arctic</tspan><tspan x="0" y="19.3">(327)</tspan></text></g>
<g id="n121" transform="translate(928.4,280.2)"><use href="#h"/><text class="t"><tspan x="0" y="-12.2">Polar</tspan><tspan x="0" y="-1.7">Weather</tspan><tspan x="0" y="8.8">Forecasting</tspan><tspan x="0" y="19.3">(121)</tspan></text></g>
<g id="n140" transform="translate(928.4,395)"><use href="#h"/><text class="t"><tspan x="0" y="-12.2">Hydro-</tspan><tspan x="0" y="-1.7">logic Impact</tspan><tspan x="0" y="8.8">of Aerosols</tspan><tspan x="0" y="19.3">(140)</tspan></text></g>
<g id="n171" transform="translate(928.4,452.4)"><use href="#h"/><text class="t"><tspan x="0" y="-12.2">Aerosol</tspan><tspan x="0" y="-1.7">Distribution</tspan><tspan x="0" y="8.8">Network</tspan><tspan x="0" y="19.3">(171)</tspan></text></g>
<g id="n99" transform="translate(928.4,509.8)"><use href="#h"/><text class="t"><tspan x="0" y="-12.2">Ozone</tspan><tspan x="0" y="-1.7">Layer &amp; UV</tspan><tspan x="0" y="8.8">Radiation</tspan><tspan x="0" y="19.3">(99)</tspan></text></g>
<g id="n367c" transform="translate(928.4,682)"><use href="#h"/><text class="t"><tspan x="0" y="-7">Antarctic</tspan><tspan x="0" y="3.5">Meteorology</tspan><tspan x="0" y="14">(367)</tspan></text></g>

<g id="n54b" transform="translate(977.8,481.1)"><use href="#h"/><text class="t"><tspan x="0" y="-12.2">Solar-</tspan><tspan x="0" y="-1.7">Atmosphere</tspan><tspan x="0" y="8.8">Linkages</tspan><tspan x="0" y="19.3">(54)</tspan></text></g>
<g id="n91" transform="translate(977.8,538.5)"><use href="#h"/><text class="t"><tspan x="0" y="-12.2">Polar</tspan><tspan x="0" y="-1.7">Snapshot</tspan><tspan x="0" y="8.8">from Space</tspan><tspan x="0" y="19.3">(91)</tspan></text></g>
<g id="n372" transform="translate(977.8,595.9)"><use href="#h"/><text class="t"><tspan x="0" y="-12.2">Polar</tspan><tspan x="0" y="-1.7">View of</tspan><tspan x="0" y="8.8">Ice</tspan><tspan x="0" y="19.3">(372)</tspan></text></g>

<g id="n217" transform="translate(1027.2,452.4)"><use href="#h"/><text class="t"><tspan x="0" y="-12.2">Polar</tspan><tspan x="0" y="-1.7">Stratosphere</tspan><tspan x="0" y="8.8">&amp; Mesosphere</tspan><tspan x="0" y="19.3">(217)</tspan></text></g>
<g id="n78b" transform="translate(1027.2,509.8)"><use href="#h"/><text class="t"><tspan x="0" y="-12.2">Mesosphere</tspan><tspan x="0" y="-1.7">Clouds &amp;</tspan><tspan x="0" y="8.8">Aurora</tspan><tspan x="0" y="19.3">(78)</tspan></text></g>
<g id="n62" transform="translate(1027.2,567.2)"><use href="#h"/><text class="t"><tspan x="0" y="-12.2">Heliosphere</tspan><tspan x="0" y="-1.7">Impact on</tspan><tspan x="0" y="8.8">Geospace</tspan><tspan x="0" y="19.3">(62)</tspan></text></g>
<g id="n134b" transform="translate(1027.2,624.6)"><use href="#h"/><text class="t"><tspan x="0" y="-12.2">Astronomy</tspan><tspan x="0" y="-1.7">from Polar</tspan><tspan x="0" y="8.8">Plateaus</tspan><tspan x="0" y="19.3">(134)</tspan></text></g>
<g id="n386b" transform="translate(1027.2,682)"><use href="#h"/><text class="t"><tspan x="0" y="-12.2">Observatory</tspan><tspan x="0" y="-1.7">at</tspan><tspan x="0" y="8.8">Dome C</tspan><tspan x="0" y="19.3">(386)</tspan></text></g>

<g id="n294" transform="translate(1126,108)"><use href="#h"/><text class="t"><tspan x="0" y="-12.2">Circum-</tspan><tspan x="0" y="-1.7">polar Student</tspan><tspan x="0" y="8.8">Exchanges</tspan><tspan x="0" y="19.3">(294)</tspan></text></g>
<g id="n112" transform="translate(1126,165.4)"><use href="#h"/><text class="t"><tspan x="0" y="-12.2">Learning</tspan><tspan x="0" y="-1.7">&amp; Indigenous</tspan><tspan x="0" y="8.8">Knowledge</tspan><tspan x="0" y="19.3">(112)</tspan></text></g>
<g id="n188c" transform="translate(1126,222.8)"><use href="#h"/><text class="t"><tspan x="0" y="-7">Arctic</tspan><tspan x="0" y="3.5">Portal</tspan><tspan x="0" y="14">(188)</tspan></text></g>
<g id="n45" transform="translate(1126,280.2)"><use href="#h"/><text class="t"><tspan x="0" y="-12.2">Wireless</tspan><tspan x="0" y="-1.7">&amp; Mobile</tspan><tspan x="0" y="8.8">Learning</tspan><tspan x="0" y="19.3">(45)</tspan></text></g>
<g id="n82" transform="translate(1126,337.6)"><use href="#h"/><text class="t"><tspan x="0" y="-12.2">Linguistic</tspan><tspan x="0" y="-1.7">&amp; Heritage</tspan><tspan x="0" y="8.8">Network</tspan><tspan x="0" y="19.3">(82)</tspan></text></g>
<g id="n400" transform="translate(1126,395)"><use href="#h"/><text class="t"><tspan x="0" y="-12.2">Rangifer</tspan><tspan x="0" y="-1.7">Research</tspan><tspan x="0" y="8.8">Network</tspan><tspan x="0" y="19.3">(400)</tspan></text></g>
<g id="n126" transform="translate(1126,452.4)"><use href="#h"/><text class="t"><tspan x="0" y="-12.2">On-line</tspan><tspan x="0" y="-1.7">Polar</tspan><tspan x="0" y="8.8">Atlas</tspan><tspan x="0" y="19.3">(126)</tspan></text></g>
<g id="n338a" transform="translate(1126,509.8)"><use href="#h"/><text class="t"><tspan x="0" y="-12.2">Education &amp;</tspan><tspan x="0" y="-1.7">Communication</tspan><tspan x="0" y="8.8">Clearinghouse</tspan><tspan x="0" y="19.3">(338)</tspan></text></g>
<g id="n51" transform="translate(1126,567.2)"><use href="#h"/><text class="t"><tspan x="0" y="-7">Publication</tspan><tspan x="0" y="3.5">Directory</tspan><tspan x="0" y="14">(51)</tspan></text></g>
<g id="n79b" transform="translate(1126,624.6)"><use href="#h"/><text class="t"><tspan x="0" y="-12.2">Polar</tspan><tspan x="0" y="-1.7">Research Book</tspan><tspan x="0" y="8.8">Series</tspan><tspan x="0" y="19.3">(79)</tspan></text></g>

<g id="n378b" transform="translate(1175.4,136.7)"><use href="#h"/><text class="t"><tspan x="0" y="-12.2">Impact</tspan><tspan x="0" y="-1.7">Assessment</tspan><tspan x="0" y="8.8">Perspectives</tspan><tspan x="0" y="19.3">(378)</tspan></text></g>
<g id="n189" transform="translate(1175.4,194.1)"><use href="#h"/><text class="t"><tspan x="0" y="-12.2">IPY at</tspan><tspan x="0" y="-1.7">University of</tspan><tspan x="0" y="8.8">the Arctic</tspan><tspan x="0" y="19.3">(189)</tspan></text></g>
<g id="n433" transform="translate(1175.4,251.5)"><use href="#h"/><text class="t"><tspan x="0" y="-12.2">Indigenous</tspan><tspan x="0" y="-1.7">Well-being</tspan><tspan x="0" y="8.8">Symposium</tspan><tspan x="0" y="19.3">(433)</tspan></text></g>
<g id="n395" transform="translate(1175.4,308.9)"><use href="#h"/><text class="t"><tspan x="0" y="-12.2">Next</tspan><tspan x="0" y="-1.7">Generation of</tspan><tspan x="0" y="8.8">Scientists</tspan><tspan x="0" y="19.3">(395)</tspan></text></g>
<g id="n336" transform="translate(1175.4,366.3)"><use href="#h"/><text class="t"><tspan x="0" y="-12.2">Snow</tspan><tspan x="0" y="-1.7">Crystal</tspan><tspan x="0" y="8.8">Network</tspan><tspan x="0" y="19.3">(336)</tspan></text></g>
<g id="n295" transform="translate(1175.4,423.7)"><use href="#h"/><text class="t"><tspan x="0" y="-12.2">Arctic</tspan><tspan x="0" y="-1.7">Research for</tspan><tspan x="0" y="8.8">the Public</tspan><tspan x="0" y="19.3">(295)</tspan></text></g>
<g id="n441" transform="translate(1175.4,481.1)"><use href="#h"/><text class="t"><tspan x="0" y="-12.2">Bringing</tspan><tspan x="0" y="-1.7">the Poles</tspan><tspan x="0" y="8.8">to Life</tspan><tspan x="0" y="19.3">(441)</tspan></text></g>
<g id="n168b" transform="translate(1175.4,538.5)"><use href="#h"/><text class="t"><tspan x="0" y="-12.2">Youth</tspan><tspan x="0" y="-1.7">Steering</tspan><tspan x="0" y="8.8">Committee</tspan><tspan x="0" y="19.3">(168)</tspan></text></g>
<g id="n397" transform="translate(1175.4,595.9)"><use href="#h"/><text class="t"><tspan x="0" y="-12.2">Polar</tspan><tspan x="0" y="-1.7">Information</tspan><tspan x="0" y="8.8">for Teachers</tspan><tspan x="0" y="19.3">(397)</tspan></text></g>
<g id="n179" transform="translate(1175.4,653.3)"><use href="#h"/><text class="t"><tspan x="0" y="-12.2">IPY Themes</tspan><tspan x="0" y="-1.7">in Earth</tspan><tspan x="0" y="8.8">Education</tspan><tspan x="0" y="19.3">(179)</tspan></text></g>
<g id="n147" transform="translate(1175.4,710.7)"><use href="#h"/><text class="t"><tspan x="0" y="-12.2">University</tspan><tspan x="0" y="-1.7">Consortium for</tspan><tspan x="0" y="8.8">Antarctica</tspan><tspan x="0" y="19.3">(147)</tspan></text></g>

<g id="n165" transform="translate(1224.8,108)"><use href="#h"/><text class="t"><tspan x="0" y="-7">Geomatics</tspan><tspan x="0" y="3.5">Conference</tspan><tspan x="0" y="14">(165)</tspan></text></g>
<g id="n396" transform="translate(1224.8,165.4)"><use href="#h"/><text class="t"><tspan x="0" y="-12.2">Indigenous</tspan><tspan x="0" y="-1.7">Forum on</tspan><tspan x="0" y="8.8">Monitoring</tspan><tspan x="0" y="19.3">(396)</tspan></text></g>
<g id="n389" transform="translate(1224.8,222.8)"><use href="#h"/><text class="t"><tspan x="0" y="-12.2">Yukon IPY</tspan><tspan x="0" y="-1.7">Community</tspan><tspan x="0" y="8.8">Liaison</tspan><tspan x="0" y="19.3">(389)</tspan></text></g>
<g id="n160" transform="translate(1224.8,280.2)"><use href="#h"/><text class="t"><tspan x="0" y="-12.2">Arctic</tspan><tspan x="0" y="-1.7">Interdisciplinary</tspan><tspan x="0" y="8.8">Dialogue</tspan><tspan x="0" y="19.3">(160)</tspan></text></g>
<g id="n208" transform="translate(1224.8,337.6)"><use href="#h"/><text class="t"><tspan x="0" y="-12.2">Multimedia</tspan><tspan x="0" y="-1.7">Bridges to the</tspan><tspan x="0" y="8.8">North</tspan><tspan x="0" y="19.3">(208)</tspan></text></g>
<g id="n410" transform="translate(1224.8,395)"><use href="#h"/><text class="t"><tspan x="0" y="-12.2">Inuit</tspan><tspan x="0" y="-1.7">Voices</tspan><tspan x="0" y="8.8">Exhibit</tspan><tspan x="0" y="19.3">(410)</tspan></text></g>
<g id="n96b" transform="translate(1224.8,452.4)"><use href="#h"/><text class="t"><tspan x="0" y="-12.2">Network</tspan><tspan x="0" y="-1.7">of Children's</tspan><tspan x="0" y="8.8">Museums</tspan><tspan x="0" y="19.3">(96)</tspan></text></g>
<g id="n405" transform="translate(1224.8,509.8)"><use href="#h"/><text class="t"><tspan x="0" y="-12.2">Meltdown</tspan><tspan x="0" y="-1.7">Giant Screen</tspan><tspan x="0" y="8.8">Film</tspan><tspan x="0" y="19.3">(405)</tspan></text></g>
<g id="n348" transform="translate(1224.8,567.2)"><use href="#h"/><text class="t"><tspan x="0" y="-12.2">Student</tspan><tspan x="0" y="-1.7">On-Ice</tspan><tspan x="0" y="8.8">Expeditions</tspan><tspan x="0" y="19.3">(348)</tspan></text></g>
<g id="n440" transform="translate(1224.8,624.6)"><use href="#h"/><text class="t"><tspan x="0" y="-12.2">Polar</tspan><tspan x="0" y="-1.7">Issues</tspan><tspan x="0" y="8.8">Book</tspan><tspan x="0" y="19.3">(440)</tspan></text></g>
<g id="n190b" transform="translate(1224.8,682)"><use href="#h"/><text class="t"><tspan x="0" y="-12.2">Capacity</tspan><tspan x="0" y="-1.7">Building for</tspan><tspan x="0" y="8.8">Research</tspan><tspan x="0" y="19.3">(190)</tspan></text></g>
<g id="n244" transform="translate(1224.8,739.4)"><use href="#h"/><text class="t"><tspan x="0" y="-7">Antarctic</tspan><tspan x="0" y="3.5">Anthology</tspan><tspan x="0" y="14">(244)</tspan></text></g>

<g id="n299" transform="translate(1274.2,79.3)"><use href="#h"/><text class="t"><tspan x="0" y="-12.2">Arctic</tspan><tspan x="0" y="-1.7">Energy</tspan><tspan x="0" y="8.8">Summit</tspan><tspan x="0" y="19.3">(299)</tspan></text></g>
<g id="n68" transform="translate(1274.2,136.7)"><use href="#h"/><text class="t"><tspan x="0" y="-12.2">Congress</tspan><tspan x="0" y="-1.7">of Arctic Social</tspan><tspan x="0" y="8.8">Sciences</tspan><tspan x="0" y="19.3">(68)</tspan></text></g>
<g id="n145" transform="translate(1274.2,194.1)"><use href="#h"/><text class="t"><tspan x="0" y="-12.2">Health</tspan><tspan x="0" y="-1.7">Assessment</tspan><tspan x="0" y="8.8">Workshop</tspan><tspan x="0" y="19.3">(145)</tspan></text></g>
<g id="n446" transform="translate(1274.2,251.5)"><use href="#h"/><text class="t"><tspan x="0" y="-12.2">Youth</tspan><tspan x="0" y="-1.7">Conservation</tspan><tspan x="0" y="8.8">Projects</tspan><tspan x="0" y="19.3">(446)</tspan></text></g>
<g id="n282" transform="translate(1274.2,308.9)"><use href="#h"/><text class="t"><tspan x="0" y="-12.2">Research &amp;</tspan><tspan x="0" y="-1.7">Education</tspan><tspan x="0" y="8.8">Base Camp</tspan><tspan x="0" y="19.3">(282)</tspan></text></g>
<g id="n338b" transform="translate(1274.2,366.3)"><use href="#h"/><text class="t"><tspan x="0" y="-7">Artists</tspan><tspan x="0" y="3.5">Exploration</tspan><tspan x="0" y="14">(338)</tspan></text></g>
<g id="n488" transform="translate(1274.2,423.7)"><use href="#h"/><text class="t"><tspan x="0" y="-12.2">Arctic</tspan><tspan x="0" y="-1.7">Nations</tspan><tspan x="0" y="8.8">Exhibition</tspan><tspan x="0" y="19.3">(488)</tspan></text></g>
<g id="n290" transform="translate(1274.2,481.1)"><use href="#h"/><text class="t"><tspan x="0" y="-12.2">IPY</tspan><tspan x="0" y="-1.7">History</tspan><tspan x="0" y="8.8">Exhibitions</tspan><tspan x="0" y="19.3">(290)</tspan></text></g>
<g id="n135" transform="translate(1274.2,538.5)"><use href="#h"/><text class="t"><tspan x="0" y="-12.2">Base</tspan><tspan x="0" y="-1.7">Preservation</tspan><tspan x="0" y="8.8">Workshop</tspan><tspan x="0" y="19.3">(135)</tspan></text></g>
<g id="n158" transform="translate(1274.2,595.9)"><use href="#h"/><text class="t"><tspan x="0" y="-12.2">Marine</tspan><tspan x="0" y="-1.7">Ecosystems</tspan><tspan x="0" y="8.8">Workshop</tspan><tspan x="0" y="19.3">(158)</tspan></text></g>
<g id="n80" transform="translate(1274.2,653.3)"><use href="#h"/><text class="t"><tspan x="0" y="-12.2">Marine</tspan><tspan x="0" y="-1.7">Organisms in</tspan><tspan x="0" y="8.8">Aquariums</tspan><tspan x="0" y="19.3">(80)</tspan></text></g>
<g id="n451" transform="translate(1274.2,710.7)"><use href="#h"/><text class="t"><tspan x="0" y="-12.2">Antarctic</tspan><tspan x="0" y="-1.7">Touring</tspan><tspan x="0" y="8.8">Exhibition</tspan><tspan x="0" y="19.3">(451)</tspan></text></g>
<g id="n110" transform="translate(1274.2,768.1)"><use href="#h"/><text class="t"><tspan x="0" y="-12.2">Multimedia</tspan><tspan x="0" y="-1.7">Exploration of</tspan><tspan x="0" y="8.8">Antarctica</tspan><tspan x="0" y="19.3">(110)</tspan></text></g>
<g id="n116" transform="translate(1274.2,825.5)"><use href="#h"/><text class="t"><tspan x="0" y="-12.2">Polar</tspan><tspan x="0" y="-1.7">Outreach</tspan><tspan x="0" y="8.8">Voyage</tspan><tspan x="0" y="19.3">(116)</tspan></text></g>
</g>
</svg>
